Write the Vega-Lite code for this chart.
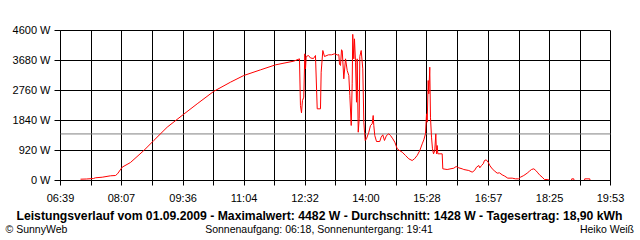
{
  "$schema": "https://vega.github.io/schema/vega-lite/v6.json",
  "width": 550,
  "height": 150,
  "autosize": {"type": "none"},
  "padding": {"left": 60.5, "top": 30.5, "right": 29.5, "bottom": 59.5},
  "background": "white",
  "config": {
    "view": {"stroke": null},
    "axis": {
      "translate": 0,
      "labelFont": "Liberation Sans",
      "labelFontSize": 11,
      "labelColor": "#000000",
      "titleFont": "Liberation Sans",
      "titleColor": "#000000",
      "domainColor": "#000000",
      "tickColor": "#000000",
      "gridColor": "#000000",
      "gridOpacity": 1,
      "gridWidth": 1,
      "domainWidth": 1,
      "tickWidth": 1,
      "labelFlush": false,
      "labelOverlap": false
    }
  },
  "resolve": {"axis": {"x": "independent", "y": "independent"}},
  "layer": [
    {
      "data": {"values": [{"avg": 1428}]},
      "mark": {"type": "rule", "color": "#808080", "strokeWidth": 1},
      "encoding": {
        "y": {
          "field": "avg", "type": "quantitative",
          "scale": {"domain": [0, 4600], "nice": false},
          "axis": {"orient": "right", "labels": false, "ticks": false, "domain": false, "grid": false,
            "title": "Heiko Weiß", "titleAngle": 0, "titleX": 23.5, "titleY": 202, "titleAlign": "right",
            "titleBaseline": "alphabetic", "titleFontSize": 10.5, "titleFontWeight": "normal"}
        }
      }
    },
    {
      "data": {"values": [
        {"t": 427.9, "w": 40}, {"t": 436.5, "w": 46}, {"t": 446.6, "w": 61}, {"t": 449.5, "w": 83},
        {"t": 459.2, "w": 101}, {"t": 471.2, "w": 144}, {"t": 478.4, "w": 153}, {"t": 481.3, "w": 205},
        {"t": 488.1, "w": 409}, {"t": 500, "w": 552}, {"t": 519.3, "w": 920}, {"t": 533.7, "w": 1227},
        {"t": 553, "w": 1635}, {"t": 576.1, "w": 2020}, {"t": 596.3, "w": 2351}, {"t": 620.3, "w": 2735},
        {"t": 644.4, "w": 3015}, {"t": 663.6, "w": 3220}, {"t": 687.7, "w": 3393}, {"t": 709.4, "w": 3547},
        {"t": 735.8, "w": 3660}, {"t": 744, "w": 3731}, {"t": 745.4, "w": 2300}, {"t": 746.9, "w": 2076},
        {"t": 748.3, "w": 2453}, {"t": 750.2, "w": 2555}, {"t": 751.7, "w": 3885}, {"t": 752.7, "w": 3424},
        {"t": 753.7, "w": 3803}, {"t": 757, "w": 3833}, {"t": 759.9, "w": 3757}, {"t": 764.2, "w": 3741},
        {"t": 767.1, "w": 3833}, {"t": 769.6, "w": 2198}, {"t": 774.3, "w": 2198}, {"t": 775.3, "w": 3321},
        {"t": 777.7, "w": 3987}, {"t": 780.1, "w": 3803}, {"t": 785.9, "w": 3854}, {"t": 790.2, "w": 3854},
        {"t": 794.6, "w": 3885}, {"t": 798.9, "w": 3849}, {"t": 800.8, "w": 3860}, {"t": 801.8, "w": 3557},
        {"t": 803.2, "w": 3527}, {"t": 804.7, "w": 4008}, {"t": 805.7, "w": 3987}, {"t": 808, "w": 3118},
        {"t": 810.5, "w": 3731}, {"t": 812.9, "w": 3373}, {"t": 815.2, "w": 3220}, {"t": 816.7, "w": 2607},
        {"t": 818.7, "w": 1687}, {"t": 820.1, "w": 2965}, {"t": 820.9, "w": 4482}, {"t": 822.4, "w": 3731},
        {"t": 823.4, "w": 4345}, {"t": 824.9, "w": 3628}, {"t": 826.3, "w": 2401}, {"t": 827.3, "w": 3731},
        {"t": 828.8, "w": 1481}, {"t": 830.2, "w": 1892}, {"t": 831.1, "w": 3803}, {"t": 833.1, "w": 3987},
        {"t": 835.4, "w": 3424}, {"t": 836.9, "w": 1789}, {"t": 837.9, "w": 1481}, {"t": 838.9, "w": 1227},
        {"t": 840.7, "w": 1278}, {"t": 844.1, "w": 1481}, {"t": 846.5, "w": 1687}, {"t": 849, "w": 1738},
        {"t": 850.4, "w": 1993}, {"t": 851.3, "w": 1687}, {"t": 852.7, "w": 1380}, {"t": 855.2, "w": 1196},
        {"t": 859.9, "w": 1196}, {"t": 861.9, "w": 1329}, {"t": 864.3, "w": 1401}, {"t": 866.7, "w": 1227},
        {"t": 869.6, "w": 1380}, {"t": 872.9, "w": 1431}, {"t": 875.4, "w": 1380}, {"t": 878.7, "w": 1278},
        {"t": 881.6, "w": 1176}, {"t": 885.1, "w": 971}, {"t": 888.4, "w": 920}, {"t": 892.3, "w": 869},
        {"t": 897.1, "w": 767}, {"t": 901.8, "w": 665}, {"t": 906.7, "w": 613}, {"t": 910, "w": 665},
        {"t": 913.9, "w": 767}, {"t": 917.7, "w": 920}, {"t": 921.2, "w": 1124}, {"t": 923.5, "w": 1247},
        {"t": 925.9, "w": 1431}, {"t": 927.4, "w": 2044}, {"t": 928.4, "w": 1789}, {"t": 929.8, "w": 3067},
        {"t": 930.7, "w": 2658}, {"t": 932.1, "w": 3475}, {"t": 933.1, "w": 1942}, {"t": 934.6, "w": 1329},
        {"t": 936, "w": 971}, {"t": 937.5, "w": 818}, {"t": 939.3, "w": 920}, {"t": 940.8, "w": 1431},
        {"t": 941.8, "w": 818}, {"t": 942.8, "w": 1073}, {"t": 943.7, "w": 818}, {"t": 950, "w": 818},
        {"t": 950.9, "w": 358}, {"t": 957.2, "w": 337}, {"t": 966.8, "w": 378}, {"t": 970.2, "w": 429},
        {"t": 974, "w": 389}, {"t": 978.9, "w": 358}, {"t": 981.2, "w": 337}, {"t": 988.4, "w": 307},
        {"t": 993.3, "w": 256}, {"t": 996.7, "w": 307}, {"t": 999.6, "w": 409}, {"t": 1002.9, "w": 460},
        {"t": 1004.3, "w": 389}, {"t": 1006.8, "w": 460}, {"t": 1009.2, "w": 511}, {"t": 1011.1, "w": 613},
        {"t": 1013.6, "w": 633}, {"t": 1016.4, "w": 562}, {"t": 1018.8, "w": 460}, {"t": 1022.2, "w": 358},
        {"t": 1026, "w": 286}, {"t": 1029.4, "w": 225}, {"t": 1032.7, "w": 235}, {"t": 1036.6, "w": 174},
        {"t": 1040.4, "w": 133}, {"t": 1044.7, "w": 72}, {"t": 1051.1, "w": 72}, {"t": 1055.8, "w": 51},
        {"t": 1060.6, "w": 51}, {"t": 1063.1, "w": 102}, {"t": 1067.8, "w": 153}, {"t": 1072.7, "w": 225},
        {"t": 1076, "w": 286}, {"t": 1078.9, "w": 337}, {"t": 1082.3, "w": 358}, {"t": 1085.2, "w": 307},
        {"t": 1088.1, "w": 235}, {"t": 1090.5, "w": 174}, {"t": 1094.4, "w": 102}, {"t": 1097.7, "w": 31},
        {"t": 1102.5, "w": 31}, {"t": 1105.4, "w": 0}, {"t": 1136.7, "w": 0}, {"t": 1137.1, "w": 51},
        {"t": 1140, "w": 51}, {"t": 1140.4, "w": 0}, {"t": 1155.4, "w": 0}, {"t": 1155.8, "w": 51},
        {"t": 1163.1, "w": 51}, {"t": 1163.5, "w": 0}
      ]},
      "mark": {"type": "line", "color": "#ff0000", "strokeWidth": 1, "interpolate": "linear"},
      "encoding": {
        "x": {
          "field": "t", "type": "quantitative",
          "scale": {"domain": [399, 1193], "nice": false, "zero": false},
          "axis": {
            "orient": "bottom",
            "values": [399, 443.1, 487, 531.5, 576, 620.1, 664, 708.1, 752, 796.1, 840, 884.1, 928, 972.5, 1017, 1061.1, 1105, 1149.1, 1193],
            "labelExpr": "datum.value % 1 != 0 ? '' : (floor(datum.value / 60) < 10 ? '0' : '') + floor(datum.value / 60) + ':' + (datum.value % 60 < 10 ? '0' : '') + (datum.value % 60)",
            "tickSize": 5, "labelPadding": 7, "grid": true,
            "title": "Leistungsverlauf vom 01.09.2009 - Maximalwert: 4482 W - Durchschnitt: 1428 W - Tagesertrag: 18,90 kWh",
            "titleFontSize": 12.2, "titleFontWeight": "bold", "titleX": 259, "titleY": 39.5,
            "titleAlign": "center", "titleBaseline": "alphabetic"
          }
        },
        "y": {
          "field": "w", "type": "quantitative",
          "scale": {"domain": [0, 4600], "nice": false},
          "axis": {
            "orient": "left",
            "values": [0, 920, 1840, 2760, 3680, 4600],
            "labelExpr": "datum.value + ' W'",
            "tickSize": 6, "labelPadding": 4, "grid": true,
            "title": "© SunnyWeb", "titleAngle": 0, "titleX": -55, "titleY": 202, "titleAlign": "left",
            "titleBaseline": "alphabetic", "titleFontSize": 10.5, "titleFontWeight": "normal"
          }
        }
      }
    },
    {
      "data": {"values": [{"t0": 399, "t1": 1193, "w": 0}]},
      "mark": {"type": "rule", "color": "#000000", "strokeWidth": 1},
      "encoding": {
        "x": {
          "field": "t0", "type": "quantitative",
          "scale": {"domain": [399, 1193], "nice": false, "zero": false},
          "axis": {"orient": "top", "labels": false, "ticks": false, "domain": false, "grid": false,
            "title": "Sonnenaufgang: 06:18, Sonnenuntergang: 19:41", "titleX": 258.5, "titleY": 202,
            "titleAlign": "center", "titleBaseline": "alphabetic", "titleFontSize": 10.5, "titleFontWeight": "normal"}
        },
        "x2": {"field": "t1"},
        "y": {"field": "w", "type": "quantitative", "scale": {"domain": [0, 4600], "nice": false}, "axis": null}
      }
    }
  ]
}
